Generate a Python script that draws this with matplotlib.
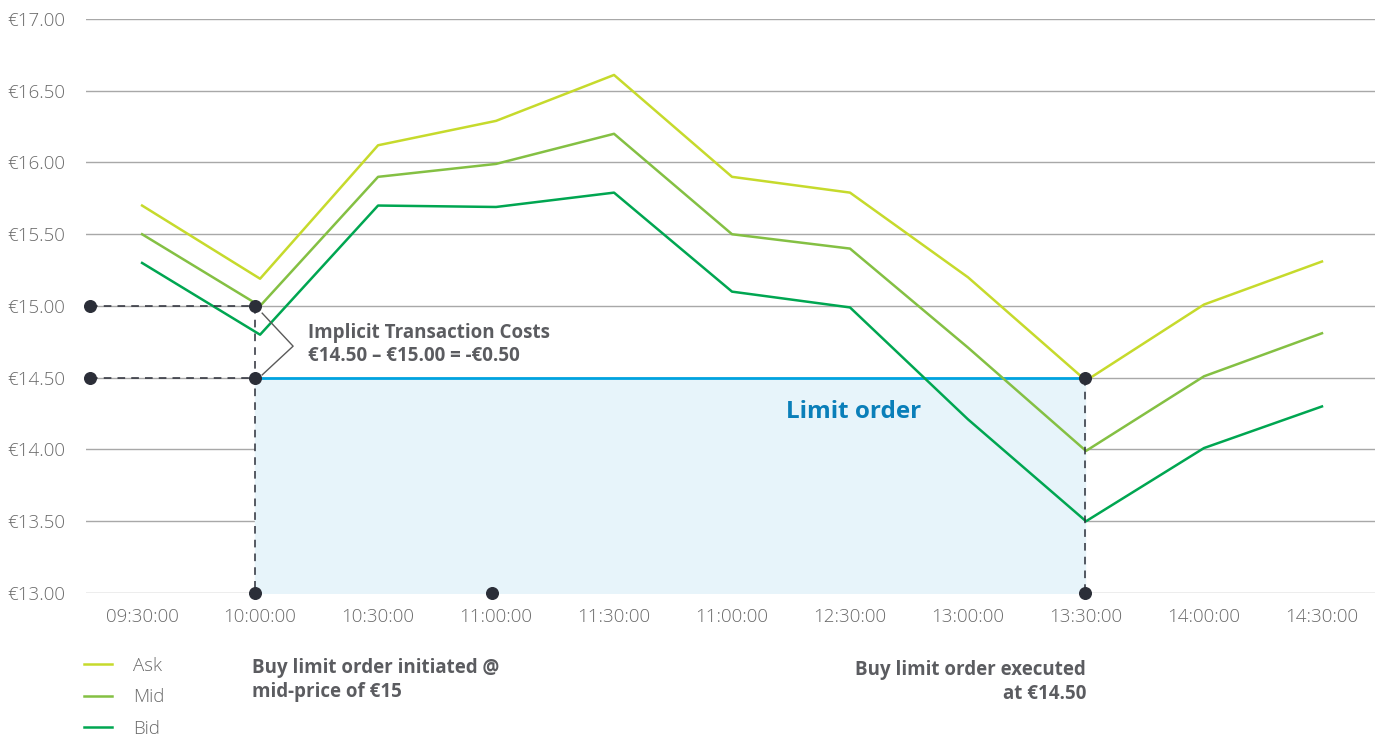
import matplotlib.pyplot as plt

plt.rcParams['font.family'] = ['Open Sans', 'DejaVu Sans']

times = ['09:30:00', '10:00:00', '10:30:00', '11:00:00', '11:30:00', '11:00:00',
         '12:30:00', '13:00:00', '13:30:00', '14:00:00', '14:30:00']
ask = [15.70, 15.19, 16.12, 16.29, 16.61, 15.90, 15.79, 15.20, 14.48, 15.01, 15.31]
mid = [15.50, 15.00, 15.90, 15.99, 16.20, 15.50, 15.40, 14.71, 13.99, 14.51, 14.81]
bid = [15.30, 14.80, 15.70, 15.69, 15.79, 15.10, 14.99, 14.21, 13.50, 14.01, 14.30]

initiated_price = 15.00
limit_price = 14.50
order_start = 0.958  # slightly before the 10:00:00 tick, as drawn
order_end = 7.99     # 13:30:00
floor_price = 13.00
extra_point = 2.966  # lone marker near 11:00:00
left_edge = -0.44

gray_text = '#5b5c60'
dark = '#2b2e38'

fig = plt.figure(figsize=(13.81, 7.36), dpi=100)
ax = fig.add_axes([0.0623, 0.1943, 0.9334, 0.7799])

x = list(range(len(times)))

# limit order zone
ax.fill_between([order_start, order_end], floor_price, limit_price, color='#e7f4fa', zorder=1)
ax.plot([order_start, order_end], [limit_price, limit_price], color='#00a3e0', lw=2, zorder=3)

ax.plot(x, ask, color='#c6da2c', lw=1.8, label='Ask', zorder=4)
ax.plot(x, mid, color='#84c043', lw=1.8, label='Mid', zorder=4)
ax.plot(x, bid, color='#00a651', lw=1.8, label='Bid', zorder=4)

# dashed guides
dash = dict(color=dark, lw=1.1, ls=(0, (5, 4)), zorder=5)
ax.plot([left_edge, order_start], [initiated_price, initiated_price], **dash)
ax.plot([left_edge, order_start], [limit_price, limit_price], **dash)
ax.plot([order_start, order_start], [initiated_price, floor_price], **dash)
ax.plot([order_end, order_end], [limit_price, floor_price], **dash)

mx = [left_edge, left_edge, order_start, order_start, order_start, extra_point, order_end, order_end]
my = [initiated_price, limit_price, initiated_price, limit_price, floor_price, floor_price,
      limit_price, floor_price]
ax.scatter(mx, my, s=70, color=dark, zorder=6, clip_on=False)

# bracket for implicit costs
ax.plot([order_start + 0.06, 1.28, order_start + 0.06], [14.95, 14.72, 14.52],
        color='#5a5a5a', lw=1, zorder=5)
ax.text(1.41, 14.81, 'Implicit Transaction Costs', fontsize=13.5, fontweight='bold',
        color=gray_text, va='center', ha='left')
ax.text(1.41, 14.65, '€14.50 – €15.00 = -€0.50', fontsize=13.5, fontweight='bold',
        color=gray_text, va='center', ha='left')

ax.text(6.03, 14.26, 'Limit order', fontsize=17.5, fontweight='bold', color='#0a7fb9',
        ha='center', va='center', zorder=7)

ax.set_xlim(-0.475, 10.45)
ax.set_ylim(13, 17)
ax.set_xticks(x)
ax.set_xticklabels(times)
yt = [13 + 0.5 * i for i in range(9)]
ax.set_yticks(yt)
ax.set_yticklabels(['€{:.2f}'.format(v) for v in yt])
ax.tick_params(length=0, labelsize=13.5, colors='#6a6a6a')
ax.tick_params(axis='y', pad=15)
ax.tick_params(axis='x', pad=11)
for lab in ax.get_xticklabels() + ax.get_yticklabels():
    lab.set_fontweight('light')
ax.grid(axis='y', color='#a8a8a8', lw=1)
ax.set_axisbelow(True)
for s in ax.spines.values():
    s.set_visible(False)

fig.text(252 / 1381, 1 - 680 / 736, 'Buy limit order initiated @\nmid-price of €15',
         fontsize=13.5, fontweight='bold', color=gray_text, ha='left', va='center',
         linespacing=1.25)
fig.text(1086 / 1381, 1 - 682 / 736, 'Buy limit order executed\nat €14.50',
         fontsize=13.5, fontweight='bold', color=gray_text, ha='right', va='center',
         linespacing=1.25, multialignment='right')

leg = fig.legend(loc='upper left', bbox_to_anchor=(84 / 1381, 1 - 657 / 736), frameon=False,
                 fontsize=13.5, handlelength=1.5, handletextpad=1.1, labelspacing=0.72,
                 borderpad=0, borderaxespad=0)
for t in leg.get_texts():
    t.set_color('#6a6a6a')
    t.set_fontweight('light')

fig.savefig('out.png', dpi=100)
